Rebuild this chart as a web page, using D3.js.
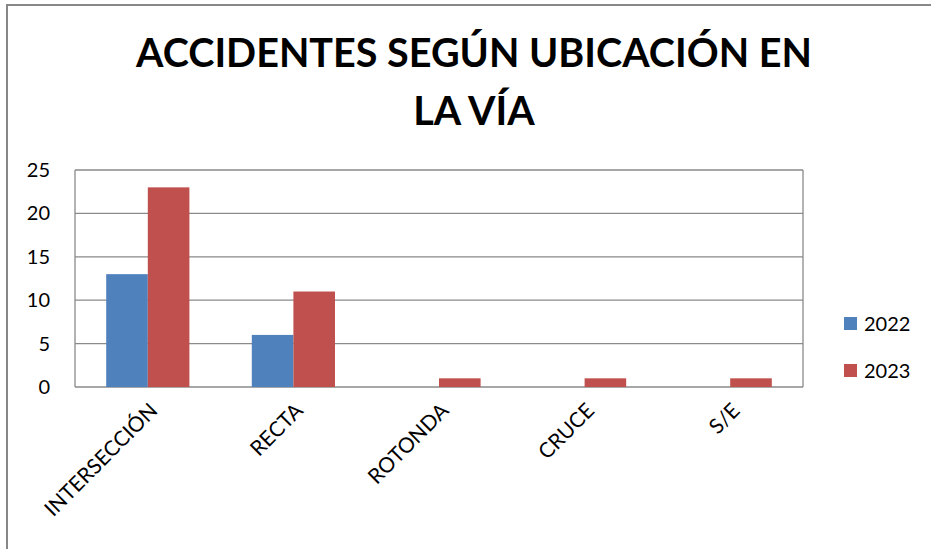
<!DOCTYPE html>
<html>
<head>
<meta charset="utf-8">
<script src="https://cdn.jsdelivr.net/npm/d3@7"></script>
<style>
  body { margin: 0; background: #fff; }
  svg { display: block; }
</style>
</head>
<body>
<div id="chart"></div>
<script>
// data
const categories = ["INTERSECCIÓN", "RECTA", "ROTONDA", "CRUCE", "S/E"];
const seriesNames = ["2022", "2023"];
const values2022 = [13, 6, 0, 0, 0];
const values2023 = [23, 11, 1, 1, 1];
const yTicks = [0, 5, 10, 15, 20, 25];
const colors = ["#4F81BD", "#C0504D"];

const W = 931, H = 549;
const margin = { top: 170, left: 75, right: 128, bottom: 162 };
const innerW = W - margin.left - margin.right;
const innerH = H - margin.top - margin.bottom;

const svg = d3.select("#chart").append("svg")
    .attr("width", W)
    .attr("height", H);

// outer chart border (runs off right and bottom edge)
svg.append("rect")
    .attr("x", 7).attr("y", 5)
    .attr("width", W + 20).attr("height", H + 20)
    .attr("fill", "none")
    .attr("stroke", "#878787")
    .attr("stroke-width", 2);

// title
const title = svg.append("g");
const t1 = title.append("text")
    .attr("x", 0).attr("y", 67)
    .attr("text-anchor", "middle")
    .style("font-family", "Lato, 'Open Sans', sans-serif")
    .style("font-weight", "700")
    .style("font-size", "41px")
    .style("fill", "#000")
    .text("ACCIDENTES SEGÚN UBICACIÓN EN");
title.append("text")
    .attr("x", 0).attr("y", 125)
    .attr("text-anchor", "middle")
    .style("font-family", "Lato, 'Open Sans', sans-serif")
    .style("font-weight", "700")
    .style("font-size", "41px")
    .style("fill", "#000")
    .text("LA VÍA");
const natural = t1.node().getComputedTextLength();
const sx = 676 / natural;
title.attr("transform", `translate(474,0) scale(${sx},1)`);

const g = svg.append("g")
    .attr("transform", `translate(${margin.left},${margin.top})`);

const x0 = d3.scaleBand()
    .domain(categories)
    .range([0, innerW]);

// gap width 150% like the spreadsheet
const barW = x0.bandwidth() / 3.5;
const x1 = d3.scaleBand()
    .domain(seriesNames)
    .range([x0.bandwidth() * 0.75 / 3.5, x0.bandwidth() * 0.75 / 3.5 + barW * 2]);

const y = d3.scaleLinear()
    .domain([0, 25])
    .range([innerH, 0]);

// gridlines
g.selectAll(".grid")
    .data(yTicks)
    .enter().append("line")
    .attr("x1", 0).attr("x2", innerW)
    .attr("y1", d => y(d)).attr("y2", d => y(d))
    .attr("stroke", "#8a8a8a")
    .attr("stroke-width", 1.3);

// plot border sides
g.append("line")
    .attr("x1", 0).attr("x2", 0)
    .attr("y1", 0).attr("y2", innerH)
    .attr("stroke", "#8a8a8a").attr("stroke-width", 1.3);
g.append("line")
    .attr("x1", innerW).attr("x2", innerW)
    .attr("y1", 0).attr("y2", innerH)
    .attr("stroke", "#8a8a8a").attr("stroke-width", 1.3);

// bars
const series = [values2022, values2023];
series.forEach((vals, si) => {
    g.selectAll(".bar" + si)
        .data(categories)
        .enter().append("rect")
        .attr("x", c => x0(c) + x1(seriesNames[si]))
        .attr("y", (c, i) => y(vals[i]))
        .attr("width", x1.bandwidth())
        .attr("height", (c, i) => innerH - y(vals[i]))
        .attr("fill", colors[si]);
});

// y axis
const yAxis = g.append("g")
    .call(d3.axisLeft(y).tickValues(yTicks).tickSize(0).tickPadding(25));
yAxis.select(".domain").remove();
yAxis.selectAll(".tick text")
    .style("font-family", "Lato, 'Open Sans', sans-serif")
    .style("font-size", "20px")
    .style("fill", "#000");

// x axis labels
const xAxis = g.append("g")
    .attr("transform", `translate(0,${innerH})`)
    .call(d3.axisBottom(x0).tickSize(0));
xAxis.select(".domain").remove();
xAxis.selectAll(".tick text")
    .style("font-family", "Lato, 'Open Sans', sans-serif")
    .style("font-size", "21px")
    .style("fill", "#000")
    .attr("text-anchor", "end")
    .attr("x", 0).attr("y", 0).attr("dy", 0)
    .attr("transform", "translate(11,25) rotate(-45)");

// legend
const legend = svg.append("g")
    .attr("transform", "translate(844,317)");
seriesNames.forEach((s, i) => {
    const row = legend.append("g").attr("transform", `translate(0,${i * 47})`);
    row.append("rect")
        .attr("width", 13).attr("height", 13)
        .attr("fill", colors[i]);
    row.append("text")
        .attr("x", 20).attr("y", 14)
        .style("font-family", "Lato, 'Open Sans', sans-serif")
        .style("font-size", "20px")
        .style("fill", "#000")
        .text(s);
});
</script>
</body>
</html>
